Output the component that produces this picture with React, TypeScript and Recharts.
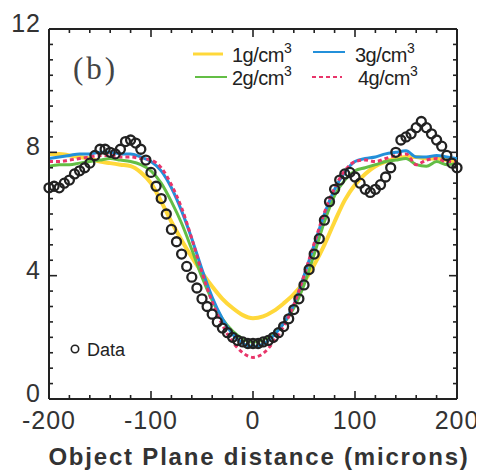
import { ComposedChart, Line, Scatter, XAxis, YAxis, Legend, ReferenceLine } from 'recharts';

// model profiles, sampled every 10 microns
const modelX = [
  -200, -190, -180, -170, -160, -150, -140, -130, -120, -110, -100, -90, -80, -70, -60, -50, -40, -30, -20, -10,
  0, 10, 20, 30, 40, 50, 60, 70, 80, 90, 100, 110, 120, 130, 140, 150, 160, 170, 180, 190, 200,
];
const dens1 = [
  7.95, 7.95, 7.9, 7.85, 7.8, 7.7, 7.65, 7.6, 7.55, 7.35, 7.0, 6.4, 5.75, 5.15, 4.6, 4.1, 3.65, 3.25, 2.95, 2.72,
  2.62, 2.68, 2.85, 3.1, 3.4, 3.8, 4.35, 5.0, 5.75, 6.45, 6.95, 7.3, 7.55, 7.7, 7.8, 7.85, 7.85, 7.8, 7.8, 7.75, 7.7,
];
const dens2 = [
  7.55, 7.6, 7.6, 7.65, 7.7, 7.75, 7.8, 7.75, 7.7, 7.6, 7.4, 7.0, 6.4, 5.7, 4.85, 3.95, 3.2, 2.6, 2.2, 1.95,
  1.85, 1.92, 2.12, 2.45, 2.95, 3.7, 4.7, 5.75, 6.6, 7.1, 7.4, 7.5, 7.6, 7.7, 7.75, 7.8, 7.6, 7.55, 7.7, 7.6, 7.65,
];
const dens3 = [
  7.8, 7.85, 7.9, 7.95, 7.95, 8.0, 8.0, 7.95, 7.95, 7.85, 7.7, 7.4, 6.85, 6.1, 5.2, 4.2, 3.3, 2.6, 2.1, 1.8,
  1.7, 1.78, 2.05, 2.45, 3.05, 4.0, 5.0, 6.0, 6.8, 7.35, 7.7, 7.8, 7.85, 7.95, 8.0, 8.05, 7.85, 7.85, 7.9, 7.85, 7.8,
];
const dens4 = [
  7.7, 7.7, 7.75, 7.8, 7.85, 7.9, 7.9, 7.85, 7.85, 7.8, 7.75, 7.5, 6.95, 6.2, 5.2, 4.1, 3.15, 2.4, 1.85, 1.5,
  1.35, 1.48, 1.85, 2.35, 3.05, 4.0, 5.05, 6.05, 6.85, 7.4, 7.7, 7.75, 7.7, 7.8, 7.9, 7.95, 7.6, 7.75, 7.8, 7.7, 7.7,
];

// measured profile
const measX = [
  -200, -195, -190, -185, -180, -175, -170, -165, -160, -155, -150, -145, -140, -135, -130, -125, -120, -115, -110,
  -105, -100, -95, -90, -85, -80, -75, -70, -65, -60, -55, -50, -45, -40, -35, -30, -25, -20, -15, -10, -5, 0,
  5, 10, 15, 20, 25, 30, 35, 40, 45, 50, 55, 60, 65, 70, 75, 80, 85, 90, 95, 100, 105, 110, 115, 120, 125, 130,
  135, 140, 145, 150, 155, 160, 165, 170, 175, 180, 185, 190, 195, 200,
];
const measY = [
  6.85, 6.9, 6.85, 7.0, 7.1, 7.3, 7.4, 7.5, 7.65, 7.9, 8.1, 8.1, 8.0, 7.95, 8.1, 8.35, 8.4, 8.3, 8.1,
  7.75, 7.35, 6.9, 6.5, 6.0, 5.5, 5.1, 4.7, 4.3, 3.95, 3.6, 3.25, 3.0, 2.75, 2.5, 2.3, 2.15, 2.0, 1.9, 1.85, 1.8, 1.8,
  1.8, 1.85, 1.9, 2.0, 2.15, 2.35, 2.6, 2.9, 3.25, 3.7, 4.2, 4.7, 5.2, 5.8, 6.4, 6.8, 7.1, 7.3, 7.35, 7.2, 7.0, 6.8,
  6.7, 6.8, 6.95, 7.2, 7.5, 8.0, 8.4, 8.5, 8.6, 8.8, 9.0, 8.8, 8.6, 8.4, 8.2, 7.9, 7.65, 7.5,
];

const X_MIN = -200;
const X_MAX = 200;
const Y_MIN = 0;
const Y_MAX = 12;
const xMajor = [-200, -100, 0, 100, 200];
const xTicks = [-200, -180, -160, -140, -120, -100, -80, -60, -40, -20, 0, 20, 40, 60, 80, 100, 120, 140, 160, 180, 200];
const yMajor = [0, 4, 8, 12];
const yTicks = [0, 0.5, 1, 1.5, 2, 2.5, 3, 3.5, 4, 4.5, 5, 5.5, 6, 6.5, 7, 7.5, 8, 8.5, 9, 9.5, 10, 10.5, 11, 11.5, 12];

const series = [
  { key: 'g1', label: '1g/cm', color: '#FFD83A', width: 4, dash: undefined },
  { key: 'g2', label: '2g/cm', color: '#63BE45', width: 3, dash: undefined },
  { key: 'g3', label: '3g/cm', color: '#2390DA', width: 3, dash: undefined },
  { key: 'g4', label: '4g/cm', color: '#E8356A', width: 3, dash: '4 3' },
];

const rows = modelX.map((x, i) => ({ x, g1: dens1[i], g2: dens2[i], g3: dens3[i], g4: dens4[i] }));
const points = measX.map((x, i) => ({ x, y: measY[i] }));

const W = 476;
const H = 465;
const MARGIN = { top: 21, right: 27, bottom: 0, left: 0 };
const AXIS_W = 41;
const AXIS_H = 74;
const FONT = '"Liberation Sans", Arial, Helvetica, sans-serif';
const INK = '#222';

// plot rectangle, used for the inward frame ticks in the overlay
const LEFT = MARGIN.left + AXIS_W;
const TOP = MARGIN.top;
const RIGHT = W - MARGIN.right;
const BOTTOM = H - AXIS_H;
const toPx = (v: number) => LEFT + ((v - X_MIN) / (X_MAX - X_MIN)) * (RIGHT - LEFT);
const toPy = (v: number) => BOTTOM - ((v - Y_MIN) / (Y_MAX - Y_MIN)) * (BOTTOM - TOP);
const MAJOR_PX = 8;
const MINOR_PX = 4;

const XLabel = ({ x, y, payload }: any) => (
  <text x={x} y={y + 30} textAnchor="middle" fontSize={25} fill="#333" fontFamily={FONT} letterSpacing={1}>
    {payload.value}
  </text>
);

const YLabel = ({ x, y, payload }: any) => (
  <text x={x - 8} y={y + 3} textAnchor="end" fontSize={25} fill="#333" fontFamily={FONT} letterSpacing={1}>
    {payload.value}
  </text>
);

const Ring = ({ cx, cy }: any) => <circle cx={cx} cy={cy} r={4.5} fill="none" stroke={INK} strokeWidth={2.3} />;

// frame ticks, key in the upper right, panel tag and data marker
const Overlay = () => {
  const spots = [
    { x1: 185, x2: 215, ly: 46, tx: 224, ty: 54 },
    { x1: 187, x2: 219, ly: 69, tx: 224, ty: 77 },
    { x1: 305, x2: 337, ly: 44, tx: 347, ty: 54 },
    { x1: 304, x2: 334, ly: 69, tx: 350, ty: 77 },
  ];
  return (
    <svg width={W} height={H} style={{ display: 'block' }}>
      <g stroke={INK} strokeWidth={1.6}>
        {xTicks.map((v) => {
          const len = xMajor.includes(v) ? MAJOR_PX : MINOR_PX;
          const px = toPx(v);
          return (
            <g key={`x${v}`}>
              <line x1={px} x2={px} y1={BOTTOM} y2={BOTTOM - len} />
              <line x1={px} x2={px} y1={TOP} y2={TOP + len} />
            </g>
          );
        })}
        {yTicks.map((v) => {
          const len = yMajor.includes(v) ? MAJOR_PX : MINOR_PX;
          const py = toPy(v);
          return (
            <g key={`y${v}`}>
              <line x1={LEFT} x2={LEFT + len} y1={py} y2={py} />
              <line x1={RIGHT} x2={RIGHT - len} y1={py} y2={py} />
            </g>
          );
        })}
      </g>
      {series.map((s, i) => (
        <g key={s.key}>
          <line x1={spots[i].x1} x2={spots[i].x2} y1={spots[i].ly} y2={spots[i].ly} stroke={s.color} strokeWidth={s.width - 1} strokeDasharray={s.dash} />
          <text x={spots[i].tx} y={spots[i].ty} fontSize={20} fill={INK} fontFamily={FONT} letterSpacing={-0.5}>
            {s.label}
            <tspan dy={-9} fontSize={14}>3</tspan>
          </text>
        </g>
      ))}
      <text x={65} y={71} fontSize={31} fill="#444" fontFamily='"Liberation Serif", "Times New Roman", serif' letterSpacing={3}>
        (b)
      </text>
      <circle cx={67} cy={341} r={3.7} fill="none" stroke={INK} strokeWidth={1.6} />
      <text x={79} y={348} fontSize={18} fill={INK} fontFamily={FONT}>
        Data
      </text>
    </svg>
  );
};

const frameStroke = { stroke: INK, strokeWidth: 2 };

export default function App() {
  return (
    <ComposedChart width={W} height={H} data={rows} margin={MARGIN}>
      <XAxis
        xAxisId="x"
        dataKey="x"
        type="number"
        domain={[X_MIN, X_MAX]}
        ticks={xMajor}
        interval={0}
        height={AXIS_H}
        tickSize={0}
        tickMargin={0}
        tickLine={false}
        tick={XLabel}
        axisLine={frameStroke}
        label={{
          value: 'Object Plane distance (microns)',
          position: 'insideBottom',
          offset: 8,
          dx: 6,
          fontSize: 24,
          fontWeight: 'bold',
          fill: '#333',
          fontFamily: FONT,
          letterSpacing: 1.8,
        }}
      />
      <YAxis
        yAxisId="y"
        type="number"
        domain={[Y_MIN, Y_MAX]}
        ticks={yMajor}
        interval={0}
        width={AXIS_W}
        tickSize={0}
        tickMargin={0}
        tickLine={false}
        tick={YLabel}
        axisLine={frameStroke}
      />
      <ReferenceLine xAxisId="x" yAxisId="y" y={Y_MAX} stroke={INK} strokeWidth={2} ifOverflow="visible" />
      <ReferenceLine xAxisId="x" yAxisId="y" x={X_MAX} stroke={INK} strokeWidth={2} ifOverflow="visible" />
      {series.map((s) => (
        <Line
          key={s.key}
          xAxisId="x"
          yAxisId="y"
          dataKey={s.key}
          type="monotone"
          stroke={s.color}
          strokeWidth={s.width}
          strokeDasharray={s.dash}
          dot={false}
          activeDot={false}
          isAnimationActive={false}
        />
      ))}
      <Scatter xAxisId="x" yAxisId="y" data={points} dataKey="y" shape={Ring} isAnimationActive={false} />
      <Legend
        layout="horizontal"
        verticalAlign="middle"
        align="center"
        content={Overlay}
        wrapperStyle={{ top: 0, left: 0, width: W, height: H, pointerEvents: 'none' }}
      />
    </ComposedChart>
  );
}
